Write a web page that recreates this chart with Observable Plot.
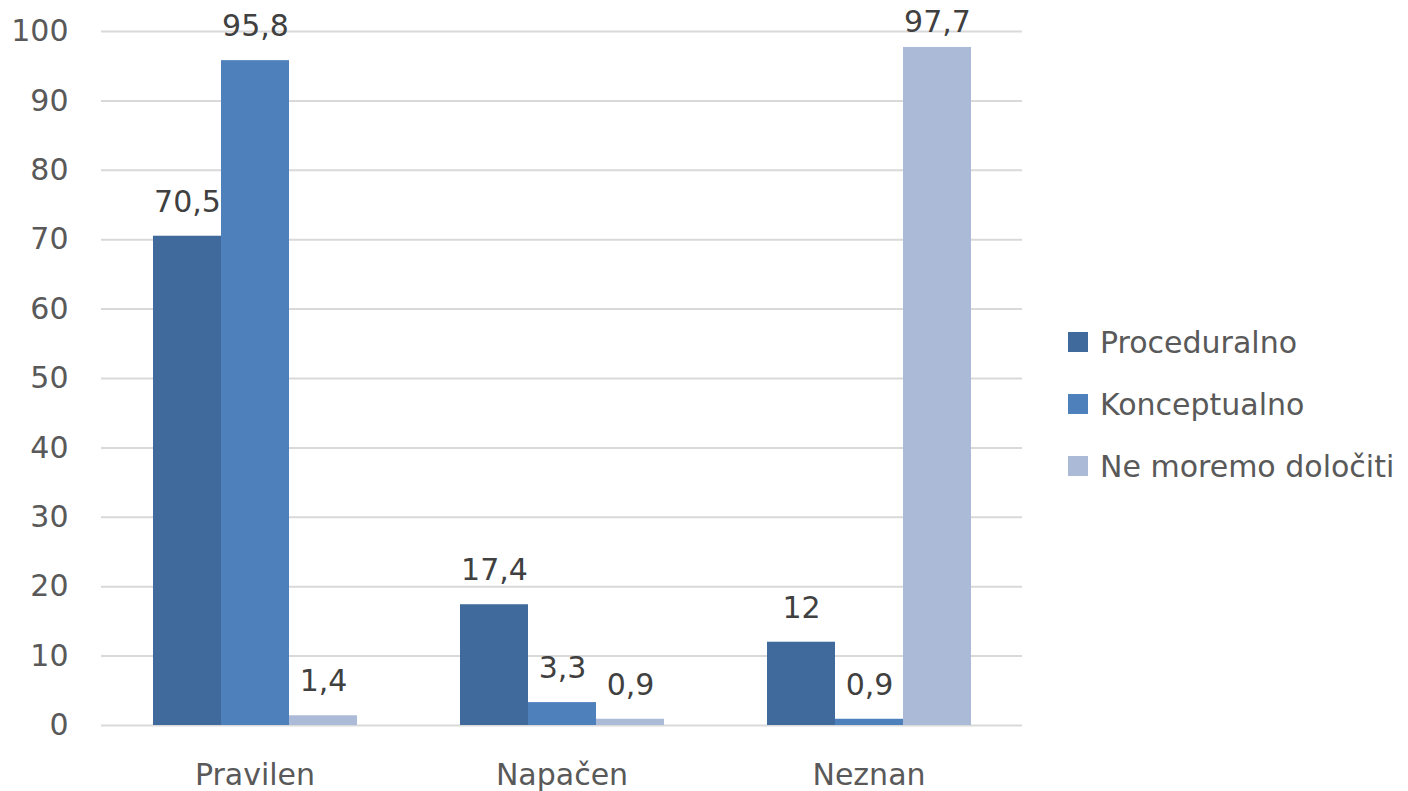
<!DOCTYPE html>
<html>
<head>
<meta charset="utf-8">
<script src="https://cdn.jsdelivr.net/npm/d3@7"></script>
<script src="https://cdn.jsdelivr.net/npm/@observablehq/plot@0.6"></script>
<style>
  html, body { margin: 0; padding: 0; background: #fff; }
  #wrap { position: relative; width: 1408px; height: 791px; font-family: "DejaVu Sans", sans-serif; }
  #legend { position: absolute; left: 1068px; top: 326px; }
  .item { display: flex; align-items: center; height: 32px; margin-bottom: 30px; font-size: 30px; color: #595959; white-space: nowrap; }
  .sw { width: 20px; height: 20px; margin-right: 12px; flex: none; }
</style>
</head>
<body>
<div id="wrap"><div id="chart"></div><div id="legend"></div></div>
<script>
const categories = ["Pravilen", "Napačen", "Neznan"];
const series = ["Proceduralno", "Konceptualno", "Ne moremo določiti"];
const proceduralno = [70.5, 17.4, 12];
const konceptualno = [95.8, 3.3, 0.9];
const neMoremo = [1.4, 0.9, 97.7];
const colors = ["#3F6A9B", "#4E80BC", "#AABAD7"];
const yTicks = [0, 10, 20, 30, 40, 50, 60, 70, 80, 90, 100];

const values = [proceduralno, konceptualno, neMoremo];
const data = [];
categories.forEach((c, i) => series.forEach((s, j) => data.push({category: c, series: s, value: values[j][i]})));
const fmt = v => String(v).replace(".", ",");
// labels close to the top of the plot area are pushed down slightly (as the original does)
const nearTop = d => d.value > 96;

const chart = Plot.plot({
  width: 1408,
  height: 791,
  marginLeft: 100,
  marginRight: 385,
  marginTop: 31,
  marginBottom: 66,
  style: {fontFamily: "DejaVu Sans, sans-serif", fontSize: "30px", color: "#595959", background: "#fff", overflow: "visible"},
  fx: {domain: categories, padding: 0, label: null, axis: "bottom", tickSize: 0, tickPadding: 38},
  x: {domain: series, paddingInner: 0, paddingOuter: 0.75, axis: null},
  y: {domain: [0, 100], ticks: yTicks, label: null, tickSize: 0, tickPadding: 33, tickFormat: d => d},
  color: {domain: series, range: colors},
  marks: [
    Plot.ruleY(yTicks, {stroke: "#d9d9d9", strokeWidth: 2}),
    Plot.barY(data, {fx: "category", x: "series", y: "value", fill: "series", inset: 0}),
    Plot.text(data.filter(d => !nearTop(d)), {fx: "category", x: "series", y: "value", text: d => fmt(d.value), dy: -34, fill: "#404040", fontSize: 30, lineAnchor: "middle"}),
    Plot.text(data.filter(nearTop), {fx: "category", x: "series", y: "value", text: d => fmt(d.value), dy: -25, fill: "#404040", fontSize: 30, lineAnchor: "middle"})
  ]
});
document.getElementById("chart").appendChild(chart);

const legend = document.getElementById("legend");
series.forEach((s, j) => {
  const it = document.createElement("div");
  it.className = "item";
  it.innerHTML = `<div class="sw" style="background:${colors[j]}"></div><span>${s}</span>`;
  legend.appendChild(it);
});
</script>
</body>
</html>
